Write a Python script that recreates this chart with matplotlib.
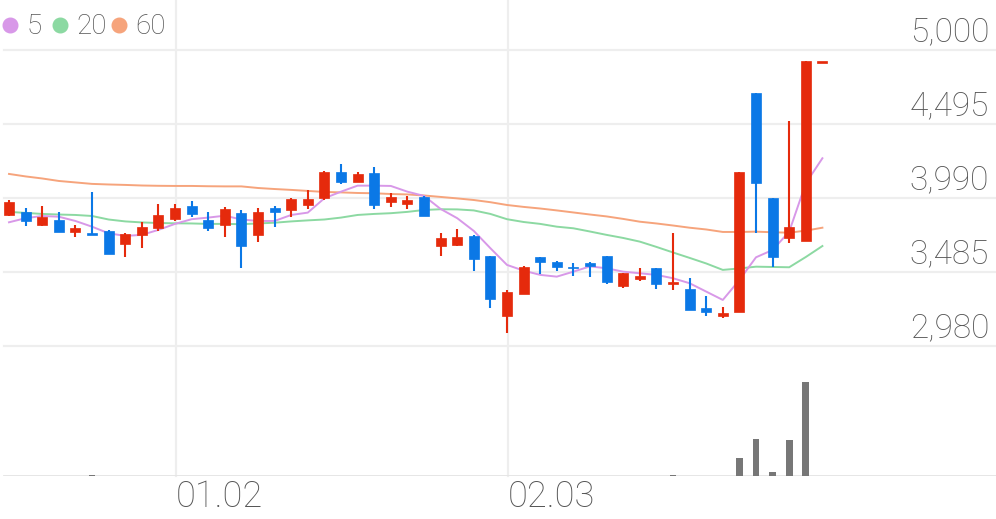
import numpy as np
import matplotlib
matplotlib.use("Agg")
import matplotlib.pyplot as plt
from matplotlib.lines import Line2D

# --- data --------------------------------------------------------------------
opens = [3874, 3897, 3806, 3840, 3760, 3753, 3767, 3676, 3737, 3785,
         3847, 3937, 3840, 3806, 3888, 3737, 3922, 3908, 3942, 3992,
         4170, 4099, 4163, 3963, 3949, 3997, 3662, 3669, 3731, 3596,
         3187, 3335, 3589, 3555, 3521, 3548, 3596, 3390, 3435, 3514,
         3403, 3372, 3239, 3185, 3214, 4705, 3988, 3715, 3697, 4920]
highs = [3976, 3922, 3937, 3897, 3806, 4033, 3772, 3751, 3826, 3949,
         3949, 3972, 3897, 3931, 3908, 3922, 3935, 3990, 4045, 4176,
         4222, 4170, 4202, 4024, 4004, 4004, 3753, 3779, 3738, 3596,
         3362, 3526, 3589, 3560, 3549, 3555, 3596, 3476, 3510, 3514,
         3749, 3443, 3321, 3248, 4170, 4705, 3988, 4516, 4927, 4920]
lows = [3870, 3799, 3800, 3755, 3724, 3737, 3608, 3587, 3649, 3765,
        3835, 3862, 3765, 3724, 3512, 3692, 3794, 3862, 3915, 3976,
        4086, 4099, 3915, 3929, 3915, 3867, 3594, 3662, 3494, 3239,
        3069, 3335, 3471, 3494, 3458, 3449, 3403, 3378, 3426, 3367,
        3362, 3222, 3185, 3169, 3214, 3749, 3521, 3685, 3697, 4920]
closes = [3965, 3833, 3862, 3758, 3787, 3737, 3608, 3744, 3794, 3874,
          3924, 3881, 3787, 3915, 3662, 3897, 3897, 3983, 3983, 4170,
          4099, 4154, 3942, 3997, 3976, 3867, 3717, 3726, 3574, 3301,
          3351, 3521, 3555, 3519, 3510, 3526, 3415, 3476, 3460, 3403,
          3412, 3222, 3214, 3207, 4170, 4090, 3585, 3790, 4927, 4920]
volumes = [2, 2, 2, 2, 2, 6, 2, 2, 2, 2,
           2, 2, 2, 2, 4, 2, 2, 2, 2, 2,
           2, 2, 2, 2, 2, 2, 3, 2, 2, 2,
           3, 2, 2, 2, 2, 2, 2, 2, 2, 2,
           15, 2, 2, 3, 183, 367, 40, 360, 940, 0]

ma5 = [3824, 3852, 3867, 3862, 3833, 3794, 3749, 3731, 3738, 3772,
       3813, 3845, 3856, 3869, 3843, 3833, 3833, 3874, 3890, 3988,
       4033, 4074, 4074, 4072, 4033, 4004, 3915, 3852, 3765, 3647,
       3533, 3494, 3465, 3453, 3487, 3523, 3510, 3487, 3476, 3465,
       3442, 3408, 3351, 3294, 3430, 3585, 3635, 3760, 4090, 4261]
ma20 = [3895, 3888, 3881, 3877, 3874, 3867, 3843, 3830, 3823, 3819,
        3817, 3816, 3813, 3813, 3811, 3816, 3821, 3830, 3837, 3843,
        3856, 3874, 3881, 3886, 3895, 3908, 3913, 3912, 3905, 3881,
        3845, 3826, 3813, 3794, 3783, 3761, 3738, 3717, 3692, 3656,
        3618, 3581, 3543, 3499, 3509, 3521, 3519, 3517, 3587, 3662]
ma60 = [4154, 4137, 4123, 4106, 4096, 4086, 4082, 4079, 4075, 4073,
        4072, 4072, 4070, 4069, 4069, 4058, 4051, 4045, 4038, 4031,
        4028, 4024, 4022, 4017, 4014, 4007, 3997, 3987, 3976, 3961,
        3942, 3929, 3918, 3905, 3891, 3877, 3864, 3847, 3828, 3816,
        3802, 3787, 3775, 3758, 3758, 3760, 3756, 3753, 3767, 3787]

price_ticks = [5000, 4495, 3990, 3485, 2980]
date_labels = ["01.02", "02.03"]
date_index = [11, 31]
ma_labels = ["5", "20", "60"]

# --- style -------------------------------------------------------------------
UP = "#E52A0C"
DOWN = "#0B78E6"
MA_COLORS = ["#D898E8", "#8CD9A2", "#F6A47C"]
GRID = "#EEEEEE"
TXT = "#555555"
FONT = ["Roboto", "DejaVu Sans"]

W, H = 996, 519
fig = plt.figure(figsize=(W / 100, H / 100), dpi=100)

x = np.arange(1, len(opens) + 1)
x_left = 1 - 9 / 16.6
x_right = x_left + W / 16.6

ax = fig.add_axes([0, 0, 1, 1])
ax.set_xlim(x_left, x_right)
ax.set_ylim(1799, 5341)
ax.axis("off")

base_frac = (H - 476) / H

for p in price_ticks:
    ax.axhline(p, xmin=0.004, xmax=1, color=GRID, lw=1.6, zorder=0)
    ax.annotate(f"{p:,}", xy=(0.993, p), xycoords=("axes fraction", "data"),
                xytext=(0, 6), textcoords="offset points", ha="right",
                va="baseline", fontsize=24, color=TXT, family=FONT,
                fontweight="light")

for i, lab in zip(date_index, date_labels):
    ax.axvline(i + 0.05, ymin=base_frac, ymax=1, color=GRID, lw=1.6, zorder=0)
    ax.text(i + 0.05, (H - 497) / H, lab, transform=ax.get_xaxis_transform(),
            ha="left", va="center", fontsize=26, color=TXT, family=FONT,
            fontweight="light")

for vals, c in zip([ma60, ma20, ma5], MA_COLORS[::-1]):
    ax.plot(x, vals, color=c, lw=1.4, zorder=2, solid_joinstyle="round")

min_body = 12
for xi, o, h, l, c in zip(x, opens, highs, lows, closes):
    col = UP if c >= o else DOWN
    ax.vlines(xi, l, h, color=col, lw=1.5, zorder=3)
    bottom = min(o, c)
    height = max(abs(c - o), min_body)
    ax.bar(xi, height, width=0.6, bottom=bottom - (height - abs(c - o)) / 2,
           color=col, edgecolor=col, lw=0.5, zorder=4)

# volume panel
vax = fig.add_axes([0, base_frac, 1, 100 / H])
vax.set_xlim(x_left, x_right)
vax.set_ylim(0, 1000)
vax.axis("off")
vax.patch.set_alpha(0)
vax.bar(x, volumes, width=0.4, color="#777777", zorder=2)
vax.axhline(0, xmin=0.004, xmax=1, color="#E4E4E4", lw=2, zorder=1)

# legend
lx = [10, 60, 119]
tx = [27, 76, 135]
for cx, tx_, c, lab in zip(lx, tx, MA_COLORS, ma_labels):
    fig.add_artist(Line2D([cx / W], [1 - 25 / H], marker="o", markersize=10.5,
                          color=c, linestyle="none", transform=fig.transFigure))
    fig.text(tx_ / W, 1 - 34 / H, lab, ha="left", va="baseline", fontsize=20,
             color=TXT, family=FONT, fontweight="light")

fig.savefig("out.png", dpi=100)
